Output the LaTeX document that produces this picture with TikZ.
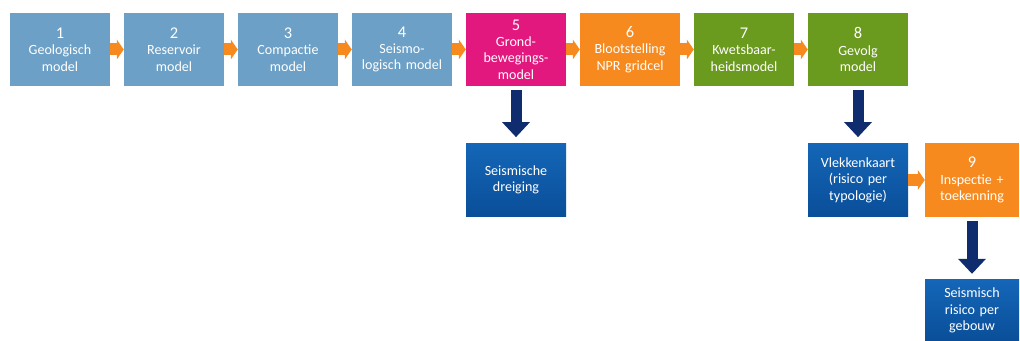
\documentclass[tikz,border=0pt]{standalone}
\usepackage{fontspec}
\setmainfont{Carlito}
\usepackage{tikz}
\usetikzlibrary{arrows.meta,positioning,calc}
\definecolor{stapblauw}{RGB}{108,160,198}
\definecolor{roze}{RGB}{226,24,126}
\definecolor{oranje}{RGB}{246,138,30}
\definecolor{groen}{RGB}{106,154,30}
\definecolor{donkerblauw}{RGB}{20,102,184}
\definecolor{donkerblauwb}{RGB}{10,78,152}
\definecolor{pijlblauw}{RGB}{14,44,110}
\tikzset{
	stap/.style = {rectangle, minimum height=2.2cm, minimum width=3cm, text width=2.8cm,
		align=center, text=white, font=\fontsize{12}{14}\selectfont, inner sep=0pt},
	blauwstap/.style = {stap, fill=stapblauw},
	rozestap/.style = {stap, fill=roze},
	oranjestap/.style = {stap, fill=oranje},
	groenstap/.style = {stap, fill=groen},
	uitkomst/.style = {stap, top color=donkerblauw, bottom color=donkerblauwb},
	doorpijl/.style = {draw=oranje, line width=0.36cm,
		-{Triangle[length=0.21cm, width=0.6cm, line width=0pt]}},
	neerpijl/.style = {draw=pijlblauw, line width=0.33cm,
		-{Triangle[length=0.45cm, width=0.84cm, line width=0pt]},
		shorten <=0.12cm, shorten >=0.18cm}
}
\newcommand{\stapnr}[1]{{\fontsize{14}{16}\selectfont #1}\\}

\begin{document}
\begin{tikzpicture}[node distance=3.42cm]
    \useasboundingbox (0,0) rectangle (30.6,-10.23);

    % bovenste rij
    \node [blauwstap] (geologie) at (1.8,-1.485) {\stapnr{1}Geologisch\\model};
    \node [blauwstap, right of=geologie] (reservoir) {\stapnr{2}Reservoir\\model};
    \node [blauwstap, right of=reservoir] (compactie) {\stapnr{3}Compactie\\model};
    \node [blauwstap, right of=compactie] (seismo) {\stapnr{4}Seismo-\\logisch model};
    \node [rozestap, right of=seismo] (grond) {\stapnr{5}Grond-\\bewegings-\\model};
    \node [oranjestap, right of=grond] (bloot) {\stapnr{6}Blootstelling\\NPR gridcel};
    \node [groenstap, right of=bloot] (kwets) {\stapnr{7}Kwetsbaar-\\heidsmodel};
    \node [groenstap, right of=kwets] (gevolg) {\stapnr{8}Gevolg\\model};

    % uitkomsten
    \node [uitkomst, below of=grond, node distance=3.915cm] (dreiging) {Seismische\\dreiging};
    \node [uitkomst, below of=gevolg, node distance=3.915cm] (vlekken) {Vlekkenkaart\\(risico per\\typologie)};
    \node [oranjestap, minimum width=2.82cm, text width=2.7cm, right of=vlekken] (inspectie) {\stapnr{9}Inspectie +\\toekenning};
    \node [uitkomst, minimum width=2.82cm, text width=2.7cm, minimum height=1.83cm,
        below of=inspectie, node distance=3.915cm] (risico) {Seismisch\\risico per\\gebouw};

    \draw [doorpijl] (geologie) -- (reservoir);
    \draw [doorpijl] (reservoir) -- (compactie);
    \draw [doorpijl] (compactie) -- (seismo);
    \draw [doorpijl] (seismo) -- (grond);
    \draw [doorpijl] (grond) -- (bloot);
    \draw [doorpijl] (bloot) -- (kwets);
    \draw [doorpijl] (kwets) -- (gevolg);
    \draw [doorpijl] (vlekken) -- (inspectie);

    \draw [neerpijl] (grond) -- (dreiging);
    \draw [neerpijl] (gevolg) -- (vlekken);
    \draw [neerpijl] (inspectie) -- (risico);
\end{tikzpicture}
\end{document}
